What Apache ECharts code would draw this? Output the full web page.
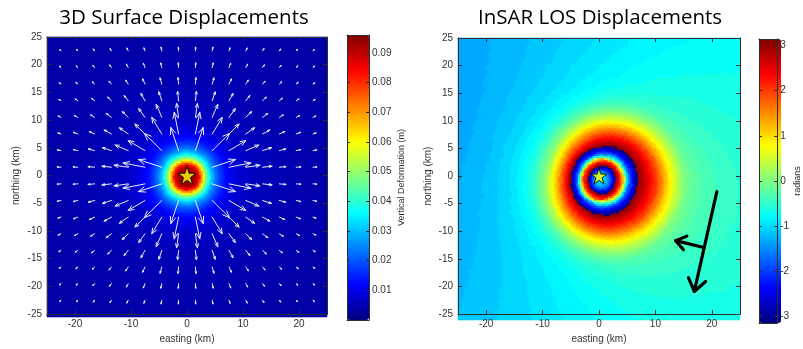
<!DOCTYPE html>
<html><head><meta charset="utf-8">
<script src="https://cdn.jsdelivr.net/npm/echarts@6/dist/echarts.min.js"></script>
<style>html,body{margin:0;padding:0;background:#fff}#c{width:803px;height:349px}</style>
</head><body><div id="c"></div>
<script>
// ---------------- DATA ----------------
const titles = ['3D Surface Displacements', 'InSAR LOS Displacements'];
const xAxisName = 'easting (km)';
const yAxisName = 'northing (km)';
const cbLeftName = 'Vertical Deformation (m)';
const cbRightName = 'radians';
const kmTicksX = [-20, -10, 0, 10, 20];
const kmTicksY = [-25, -20, -15, -10, -5, 0, 5, 10, 15, 20, 25];
const cbLeftTicks = [0.01, 0.02, 0.03, 0.04, 0.05, 0.06, 0.07, 0.08, 0.09];
const cbRightTicks = [-3, -2, -1, 0, 1, 2, 3];
const cbLeftRange = [0, 0.096];
const cbRightRange = [-3.1416, 3.1416];

// radial sample positions (km) of the profiles below: 0..15 every 0.25, 15.5..36 every 0.5
const profileRadiusKm = [];
for (let k = 0; k <= 60; k++) profileRadiusKm.push(k * 0.25);
for (let k = 1; k <= 42; k++) profileRadiusKm.push(15 + k * 0.5);

// vertical uplift (m)
const upliftM = [0.0955,0.0954,0.0952,0.0948,0.0942,0.0934,0.0922,0.0905,0.0875,0.0830,0.0765,0.0685,0.0605,0.0535,0.0475,0.0422,0.0376,0.0337,0.0303,0.0274,0.0249,0.0227,0.0208,0.0191,0.0176,0.0163,0.0151,0.0140,0.0130,0.0122,0.0114,0.0107,0.0101,0.0096,0.0091,0.0087,0.0083,0.0079,0.0076,0.0073,0.0070,
  0.0069,0.0067,0.0066,0.0064,0.0063,0.0062,0.0061,0.0060,0.0059,0.0058,0.0057,0.0056,0.0055,0.0055,0.0054,0.0053,0.0053,0.0052,0.0051,0.0051,
  0.0050,0.0049,0.0049,0.0048,0.0047,0.0046,0.0046,0.0045,0.0045,0.0044,0.0044,0.0043,0.0043,0.0042,0.0042,0.0041,0.0041,0.0041,0.0040,0.0040,
  0.0040,0.0039,0.0039,0.0039,0.0038,0.0038,0.0038,0.0038,0.0037,0.0037,0.0037,0.0037,0.0037,0.0037,0.0036,0.0036,0.0036,0.0036,0.0036,0.0036,0.0036,0.0036];

// unwrapped LOS phase (rad) read along the look direction (≈east), opposite (≈west) and across it (≈north/south)
const losPhaseEast = [11.60,11.57,11.54,11.50,11.41,11.32,11.20,11.03,10.87,10.59,10.20,9.81,9.42,9.10,8.78,8.45,8.11,7.62,6.91,6.15,
  5.36,4.75,4.51,4.27,4.02,3.77,3.51,3.29,3.10,3.02,2.93,2.84,2.75,2.66,2.57,2.49,2.40,2.31,2.24,2.16,
  2.09,1.99,1.87,1.75,1.62,1.51,1.39,1.27,1.15,1.03,0.92,0.82,0.73,0.64,0.56,0.47,0.38,0.30,0.21,0.12,0.03,
  -0.05,-0.11,-0.16,-0.20,-0.24,-0.27,-0.30,-0.32,-0.34,-0.36,-0.38,-0.40,-0.41,-0.43,-0.44,-0.45,-0.46,-0.47,-0.48,-0.49,
  -0.50,-0.51,-0.52,-0.52,-0.53,-0.54,-0.54,-0.55,-0.55,-0.56,-0.56,-0.57,-0.57,-0.58,-0.58,-0.59,-0.59,-0.60,-0.60,-0.61,-0.61,-0.62];
const losPhaseWest = [11.60,11.53,11.35,11.04,10.65,10.28,9.89,9.50,9.15,8.81,8.44,8.05,7.33,6.29,5.22,4.62,4.31,3.99,3.66,3.34,
  3.06,2.81,2.57,2.34,2.14,1.95,1.78,1.60,1.43,1.26,1.08,0.91,0.77,0.64,0.51,0.38,0.26,0.13,0.00,-0.06,
  -0.13,-0.19,-0.25,-0.31,-0.38,-0.44,-0.50,-0.56,-0.60,-0.64,-0.68,-0.72,-0.75,-0.78,-0.80,-0.83,-0.85,-0.87,-0.89,-0.92,-0.95,
  -0.98,-1.01,-1.03,-1.06,-1.08,-1.10,-1.12,-1.14,-1.16,-1.18,-1.19,-1.21,-1.22,-1.23,-1.25,-1.26,-1.27,-1.28,-1.29,-1.30,
  -1.31,-1.32,-1.32,-1.33,-1.34,-1.34,-1.35,-1.36,-1.36,-1.37,-1.37,-1.38,-1.38,-1.39,-1.39,-1.40,-1.40,-1.41,-1.41,-1.41,-1.42,-1.42];
const losPhaseNorth = [11.60,11.58,11.52,11.42,11.27,11.06,10.80,10.45,10.05,9.65,9.30,8.97,8.63,8.28,7.90,7.10,6.20,5.30,4.70,4.42,
  4.15,3.88,3.60,3.31,3.09,2.96,2.83,2.70,2.57,2.44,2.32,2.19,2.06,1.94,1.81,1.68,1.55,1.42,1.28,1.14,
  1.00,0.87,0.74,0.62,0.50,0.40,0.30,0.20,0.11,0.03,-0.05,-0.12,-0.19,-0.25,-0.31,-0.36,-0.41,-0.45,-0.49,-0.52,-0.55,
  -0.60,-0.64,-0.67,-0.70,-0.72,-0.74,-0.76,-0.77,-0.78,-0.79,-0.80,-0.81,-0.82,-0.83,-0.84,-0.85,-0.85,-0.86,-0.87,-0.87,
  -0.88,-0.88,-0.89,-0.89,-0.90,-0.90,-0.91,-0.91,-0.91,-0.92,-0.92,-0.92,-0.93,-0.93,-0.93,-0.94,-0.94,-0.94,-0.94,-0.95,-0.95,-0.95];

// horizontal displacement (m) read from the quiver arrows
const horizRadiusKm = [4,4.5,5,5.5,6,6.5,7,7.5,8,8.5,9,9.5,10,11,12,13,14,15,16,17,18,19,20,22,24,26,28,30,32];
const horizDispM = [0.0336,0.0352,0.0360,0.0364,0.0360,0.0352,0.0336,0.0320,0.0300,0.0280,0.0264,0.0248,0.0232,0.0204,0.0180,0.0156,0.0136,0.0120,0.0106,0.0094,0.0083,0.0074,0.0067,0.0055,0.0046,0.0038,0.0033,0.0029,0.0026];
const arrowGridKm = [-22.5,-19.5,-16.5,-13.5,-10.5,-7.5,-4.5,-1.5,1.5,4.5,7.5,10.5,13.5,16.5,19.5,22.5];

const sourceKm = [0, 0];
const flightArrowKm = [[20.9, -2.8], [16.9, -20.9]];
const lookArrowKm = [[18.4, -12.9], [13.6, -11.7]];

// ---------------- BUILD ----------------
const jet = ['#000080','#0000ff','#0080ff','#00ffff','#80ff80','#ffff00','#ff8000','#ff0000','#800000'];
const EXT = [-25, 25];
const NCL = 140, NCR = 141;   // heatmap cells per side (2 px each)
const catsL = Array.from({length: NCL}, (_, i) => i);
const catsR = Array.from({length: NCR}, (_, i) => i);
const centerOf = (i, n) => EXT[0] + (i + 0.5) * (EXT[1] - EXT[0]) / n;

function nearest(radii, vals, r) {
  let best = 0, bd = Infinity;
  for (let k = 0; k < radii.length; k++) {
    const d = Math.abs(radii[k] - r);
    if (d < bd) { bd = d; best = k; }
  }
  return vals[best];
}

const leftCells = [];
for (let i = 0; i < NCL; i++) for (let j = 0; j < NCL; j++) {
  const x = centerOf(i, NCL) - sourceKm[0], y = centerOf(j, NCL) - sourceKm[1];
  leftCells.push([i, j, nearest(profileRadiusKm, upliftM, Math.hypot(x, y))]);
}

// look direction (ground -> satellite), opposite to the drawn look arrow
const lvx = lookArrowKm[0][0] - lookArrowKm[1][0], lvy = lookArrowKm[0][1] - lookArrowKm[1][1];
const lnorm = Math.hypot(lvx, lvy);
const lx = lvx / lnorm, ly = lvy / lnorm;
const LEVELS = 64, TAU = 2 * Math.PI;
const rightCells = [];
for (let i = 0; i < NCR; i++) for (let j = 0; j < NCR; j++) {
  const x = centerOf(i, NCR) - sourceKm[0], y = centerOf(j, NCR) - sourceKm[1];
  const r = Math.hypot(x, y);
  const c = r > 0 ? (lx * x + ly * y) / r : 0;
  const E = nearest(profileRadiusKm, losPhaseEast, r);
  const W = nearest(profileRadiusKm, losPhaseWest, r);
  const Nn = nearest(profileRadiusKm, losPhaseNorth, r);
  const B = (E - W) / 2, S = (E + W) / 2, A = (S + Nn) / 2, C = (S - Nn) / 2;
  const phi = A + B * c + C * (2 * c * c - 1);
  const w = ((phi + Math.PI) % TAU + TAU) % TAU;
  const q = Math.min(LEVELS - 1, Math.floor(w / TAU * LEVELS));
  rightCells.push([i, j, -Math.PI + (q + 0.5) * TAU / LEVELS]);
}

const quiver = [];
const arrowKmPerM = 125;
for (const gx of arrowGridKm) for (const gy of arrowGridKm) {
  const x = gx - sourceKm[0], y = gy - sourceKm[1];
  const r = Math.hypot(x, y);
  if (r < horizRadiusKm[0]) continue;
  const Lk = nearest(horizRadiusKm, horizDispM, r) * arrowKmPerM;
  quiver.push([gx, gy, gx + Lk * x / r, gy + Lk * y / r]);
}
const blackArrows = [
  [flightArrowKm[0][0], flightArrowKm[0][1], flightArrowKm[1][0], flightArrowKm[1][1], 15],
  [lookArrowKm[0][0], lookArrowKm[0][1], lookArrowKm[1][0], lookArrowKm[1][1], 12]
];

function arrowRender(color, width, headFrac, headMin, angDeg) {
  return function (params, api) {
    const p0 = api.coord([api.value(0), api.value(1)]);
    const p1 = api.coord([api.value(2), api.value(3)]);
    const dx = p1[0] - p0[0], dy = p1[1] - p0[1];
    const len = Math.hypot(dx, dy);
    const hv = api.value(4);
    const h = (hv > 0) ? hv : Math.max(len * headFrac, headMin);
    const ang = Math.atan2(dy, dx), a = angDeg * Math.PI / 180;
    const hl = [p1[0] - h * Math.cos(ang - a), p1[1] - h * Math.sin(ang - a)];
    const hr = [p1[0] - h * Math.cos(ang + a), p1[1] - h * Math.sin(ang + a)];
    return {
      type: 'group', children: [
        {type: 'line', shape: {x1: p0[0], y1: p0[1], x2: p1[0], y2: p1[1]}, style: {stroke: color, lineWidth: width, lineCap: 'round'}},
        {type: 'polyline', shape: {points: [hl, p1, hr]}, style: {stroke: color, lineWidth: width, fill: null, lineJoin: 'round', lineCap: 'round'}}
      ]
    };
  };
}

const starPath = 'path://M50,2 L61,36 L97,36 L68,57 L79,92 L50,71 L21,92 L32,57 L3,36 L39,36 Z';
const AX = '#2e2e2e';
const LBL = {color: '#333', fontSize: 10, fontFamily: 'Liberation Sans'};

function kmX(grid, pos, labels, name) {
  return {type: 'value', gridIndex: grid, position: pos, min: EXT[0], max: EXT[1], z: 10,
    axisLine: {show: true, onZero: false, lineStyle: {color: AX}},
    axisTick: {show: true, inside: true, length: 4, customValues: kmTicksX, lineStyle: {color: AX}},
    axisLabel: labels ? Object.assign({show: true, margin: 5, customValues: kmTicksX}, LBL) : {show: false},
    splitLine: {show: false},
    name: name || '', nameLocation: 'middle', nameGap: 17, nameTextStyle: Object.assign({}, LBL)};
}
function kmY(grid, pos, labels, name, gap) {
  return {type: 'value', gridIndex: grid, position: pos, min: EXT[0], max: EXT[1], z: 10,
    axisLine: {show: true, onZero: false, lineStyle: {color: AX}},
    axisTick: {show: true, inside: true, length: 4, customValues: kmTicksY, lineStyle: {color: AX}},
    axisLabel: labels ? Object.assign({show: true, margin: 5, customValues: kmTicksY}, LBL) : {show: false},
    splitLine: {show: false},
    name: name || '', nameLocation: 'middle', nameGap: gap || 25, nameRotate: 90, nameTextStyle: Object.assign({}, LBL)};
}
function boxX(grid, pos) {
  return {type: 'value', gridIndex: grid, position: pos, min: 0, max: 1, z: 10,
    axisLine: {show: true, onZero: false, lineStyle: {color: AX}},
    axisTick: {show: false}, axisLabel: {show: false}, splitLine: {show: false}};
}
function cbY(grid, pos, range, ticks, fmt, name, gap) {
  return {type: 'value', gridIndex: grid, position: pos, min: range[0], max: range[1], z: 10,
    axisLine: {show: true, onZero: false, lineStyle: {color: AX}},
    axisTick: {show: true, inside: true, length: 3, customValues: ticks, lineStyle: {color: AX}},
    axisLabel: fmt ? Object.assign({show: true, margin: 3, customValues: ticks, formatter: fmt}, LBL) : {show: false},
    splitLine: {show: false},
    name: name || '', nameLocation: 'middle', nameGap: gap || 20, nameRotate: 90,
    nameTextStyle: Object.assign({}, LBL, {fontSize: 9})};
}
const catAx = (grid, cats) => ({type: 'category', gridIndex: grid, data: cats, show: false});

const L = {left: 47, top: 37, width: 280, height: 280};
const R = {left: 458, top: 38, width: 282, height: 282};
const CBL = {left: 347, top: 35, width: 22, height: 285};
const CBR = {left: 759, top: 39, width: 22, height: 284};
const TITLE_STYLE = {fontFamily: 'Open Sans', fontSize: 20.5, fontWeight: 'normal', color: '#000'};

const option = {
  animation: false,
  backgroundColor: '#fff',
  title: [
    {text: titles[0], left: 184, top: 8, padding: 0, textAlign: 'center', textStyle: TITLE_STYLE},
    {text: titles[1], left: 600, top: 8, padding: 0, textAlign: 'center', textStyle: TITLE_STYLE}
  ],
  grid: [L, L, CBL, R, R, CBR],
  xAxis: [
    catAx(0, catsL), kmX(1, 'bottom', true, xAxisName), kmX(1, 'top', false), boxX(2, 'bottom'), boxX(2, 'top'),
    catAx(3, catsR), kmX(4, 'bottom', true, xAxisName), kmX(4, 'top', false), boxX(5, 'bottom'), boxX(5, 'top')
  ],
  yAxis: [
    catAx(0, catsL), kmY(1, 'left', true, yAxisName, 26), kmY(1, 'right', false),
    cbY(2, 'right', cbLeftRange, cbLeftTicks, v => v.toFixed(2), cbLeftName, 28), cbY(2, 'left', cbLeftRange, cbLeftTicks, null),
    catAx(3, catsR), kmY(4, 'left', true, yAxisName, 25), kmY(4, 'right', false),
    cbY(5, 'right', cbRightRange, cbRightTicks, v => String(Math.round(v)), cbRightName, 13), cbY(5, 'left', cbRightRange, cbRightTicks, null)
  ],
  visualMap: [
    {type: 'continuous', seriesIndex: 0, min: cbLeftRange[0], max: cbLeftRange[1], inRange: {color: jet},
     left: CBL.left, top: CBL.top, itemWidth: CBL.width, itemHeight: CBL.height, padding: 0, calculable: false, hoverLink: false, z: 1},
    {type: 'continuous', seriesIndex: 3, min: cbRightRange[0], max: cbRightRange[1], inRange: {color: jet},
     left: CBR.left, top: CBR.top, itemWidth: CBR.width, itemHeight: CBR.height, padding: 0, calculable: false, hoverLink: false, z: 1}
  ],
  series: [
    {type: 'heatmap', xAxisIndex: 0, yAxisIndex: 0, data: leftCells, progressive: 0, silent: true, emphasis: {disabled: true}, itemStyle: {borderWidth: 0}},
    {type: 'custom', xAxisIndex: 1, yAxisIndex: 1, data: quiver, silent: true, z: 5,
     encode: {x: [0, 2], y: [1, 3]}, renderItem: arrowRender('#e8ecf8', 1, 0.3, 1.2, 22)},
    {type: 'scatter', xAxisIndex: 1, yAxisIndex: 1, data: [sourceKm], symbol: starPath, symbolSize: 18, silent: true, z: 8,
     itemStyle: {color: '#ffff00', borderColor: '#000', borderWidth: 1}},
    {type: 'heatmap', xAxisIndex: 5, yAxisIndex: 5, data: rightCells, progressive: 0, silent: true, emphasis: {disabled: true}, itemStyle: {borderWidth: 0}},
    {type: 'scatter', xAxisIndex: 6, yAxisIndex: 6, data: [sourceKm], symbol: starPath, symbolSize: 16, silent: true, z: 8,
     itemStyle: {color: '#ffff00', borderColor: '#000', borderWidth: 1}},
    {type: 'custom', xAxisIndex: 6, yAxisIndex: 6, data: blackArrows, silent: true, z: 6,
     encode: {x: [0, 2], y: [1, 3]}, renderItem: arrowRender('#000', 3.2, 0.3, 4, 36)}
  ]
};
const chart = echarts.init(document.getElementById('c'), null, {renderer: 'canvas'});
chart.setOption(option);
</script></body></html>
